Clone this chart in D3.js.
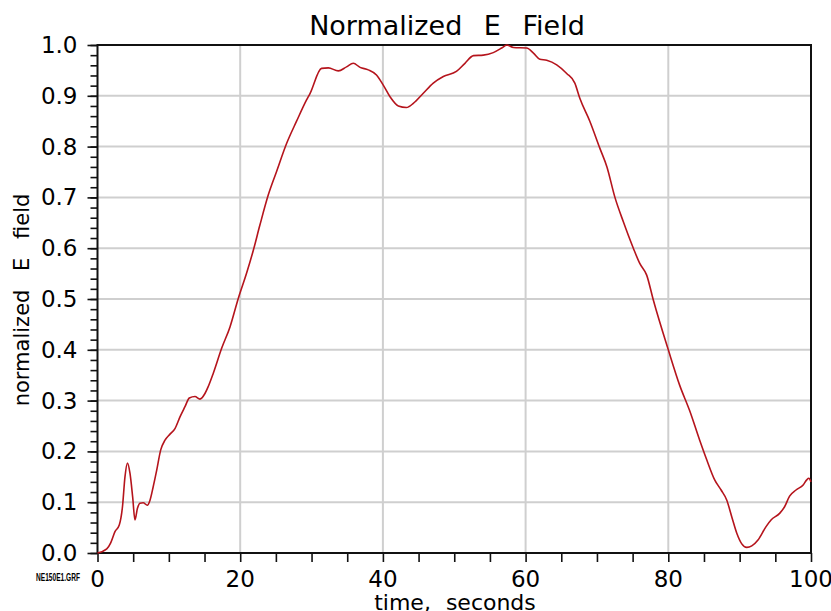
<!DOCTYPE html>
<html>
<head>
<meta charset="utf-8">
<script src="https://cdn.jsdelivr.net/npm/d3@7"></script>
<style>
  body { margin: 0; background: #fff; }
  text { font-family: "DejaVu Sans", sans-serif; fill: #000; }
</style>
</head>
<body>
<svg id="chart" width="831" height="611"></svg>
<script>
// time (s) and normalized field
const time = [0, 1.3, 1.85, 2.45, 3.05, 3.5, 3.85, 4.2, 4.55, 4.93, 5.25, 5.6, 5.95, 6.4, 6.98, 7.36, 7.8, 8.3, 8.86, 9.46,
  10.16, 10.86, 11.56, 12.26, 12.87, 13.66, 14.36, 15.06, 15.5, 16.23, 17.4, 18.57, 19.73, 20.9, 21.84, 22.77, 23.94, 25.1,
  26.5, 27.9, 29.3, 29.8, 31.4, 32.35, 33.75, 34.9, 35.85, 36.8, 37.95, 39.1, 40.05, 41, 42.16, 43.3, 44.26, 45.66, 47.06,
  48.47, 50.3, 51.5, 52.7, 54.07, 55.47, 56.65, 57.35, 58.3, 60.15, 61.1, 62, 62.96, 64.36, 65.76, 66.9, 67.6, 69, 70.4,
  71.4, 72.5, 73.7, 75.1, 76, 76.97, 77.9, 80, 81.6, 83, 84.4, 85.4, 86.5, 87.4, 88.2, 88.9, 89.6, 90.3, 91, 91.7, 92.6,
  93.7, 94.4, 95.6, 96.3, 97, 97.9, 98.9, 99.4, 99.7, 100];
const efield = [0, 0.008, 0.02, 0.042, 0.055, 0.091, 0.15, 0.177, 0.157, 0.11, 0.065, 0.088, 0.098, 0.099, 0.094, 0.104,
  0.13, 0.163, 0.203, 0.222, 0.234, 0.245, 0.268, 0.288, 0.305, 0.308, 0.303, 0.314, 0.327, 0.354, 0.403, 0.445, 0.501,
  0.551, 0.596, 0.646, 0.705, 0.751, 0.806, 0.85, 0.892, 0.905, 0.954, 0.955, 0.949, 0.957, 0.964, 0.956, 0.951, 0.941,
  0.921, 0.898, 0.88, 0.877, 0.885, 0.905, 0.925, 0.938, 0.948, 0.964, 0.979, 0.98, 0.985, 0.994, 1.0, 0.995, 0.994,
  0.984, 0.972, 0.97, 0.961, 0.944, 0.925, 0.895, 0.85, 0.797, 0.76, 0.701, 0.652, 0.6, 0.57, 0.547, 0.498, 0.4, 0.33,
  0.28, 0.222, 0.183, 0.144, 0.124, 0.104, 0.071, 0.039, 0.018, 0.011, 0.014, 0.026, 0.052, 0.065, 0.078, 0.091, 0.112,
  0.124, 0.134, 0.144, 0.147, 0.14];

const xTicks = [0, 20, 40, 60, 80, 100];
const yTicks = [0, 0.1, 0.2, 0.3, 0.4, 0.5, 0.6, 0.7, 0.8, 0.9, 1.0];

const svg = d3.select('#chart');
const margin = { top: 45, right: 20, bottom: 58, left: 97.5 };
const width = 831 - margin.left - margin.right;
const height = 611 - margin.top - margin.bottom;

const x = d3.scaleLinear().domain([0, 100]).range([0, width]);
const y = d3.scaleLinear().domain([0, 1]).range([height, 0]);

const g = svg.append('g').attr('transform', `translate(${margin.left},${margin.top})`);

// grid
g.append('g').selectAll('line')
  .data(xTicks.slice(1, -1))
  .enter().append('line')
  .attr('x1', d => x(d)).attr('x2', d => x(d))
  .attr('y1', 0).attr('y2', height)
  .attr('stroke', '#cfcfcf').attr('stroke-width', 2);
g.append('g').selectAll('line')
  .data(yTicks.slice(1, -1))
  .enter().append('line')
  .attr('y1', d => y(d)).attr('y2', d => y(d))
  .attr('x1', 0).attr('x2', width)
  .attr('stroke', '#cfcfcf').attr('stroke-width', 2);

// axes
g.append('g')
  .attr('transform', `translate(0,${height})`)
  .call(d3.axisBottom(x).tickValues(d3.range(0, 101, 5)).tickSize(9).tickFormat(''));
g.append('g')
  .call(d3.axisLeft(y).tickValues(d3.range(0, 1.001, 0.02)).tickSize(7).tickFormat(''));
g.append('g')
  .call(d3.axisLeft(y).tickValues(yTicks).tickSize(10).tickFormat(''));
g.selectAll('.domain').remove();
g.selectAll('.tick line').attr('stroke', '#111').attr('stroke-width', 1.6);

g.append('g').selectAll('text')
  .data(xTicks)
  .enter().append('text')
  .attr('x', d => x(d)).attr('y', height + 34)
  .attr('text-anchor', 'middle')
  .style('font-size', '23px')
  .text(d => d);
g.append('g').selectAll('text')
  .data(yTicks)
  .enter().append('text')
  .attr('x', -20).attr('y', d => y(d) + 8)
  .attr('text-anchor', 'end')
  .style('font-size', '23px')
  .text(d => d.toFixed(1));

// frame
g.append('rect')
  .attr('width', width).attr('height', height)
  .attr('fill', 'none').attr('stroke', '#111').attr('stroke-width', 2);

// curve
const pts = time.map((t, i) => [t, efield[i]]);
g.append('path')
  .datum(pts)
  .attr('fill', 'none')
  .attr('stroke', '#b5141c')
  .attr('stroke-width', 1.6)
  .attr('d', d3.line().x(d => x(d[0])).y(d => y(d[1])).curve(d3.curveMonotoneX));

// titles
svg.append('text')
  .attr('x', 447).attr('y', 35)
  .attr('text-anchor', 'middle')
  .style('font-size', '27px').style('word-spacing', '13px')
  .text('Normalized E Field');
svg.append('text')
  .attr('x', 455).attr('y', 610)
  .attr('text-anchor', 'middle')
  .style('font-size', '22px').style('word-spacing', '8px')
  .text('time, seconds');
svg.append('text')
  .attr('transform', 'translate(29,300) rotate(-90)')
  .attr('text-anchor', 'middle')
  .style('font-size', '21px').style('word-spacing', '12px')
  .text('normalized E field');
svg.append('text')
  .attr('transform', 'translate(36,581) scale(0.66,1)')
  .style('font-family', '"Liberation Sans", sans-serif')
  .style('font-size', '10px').style('font-weight', 'bold')
  .text('NE150E1.GRF');
</script>
</body>
</html>
